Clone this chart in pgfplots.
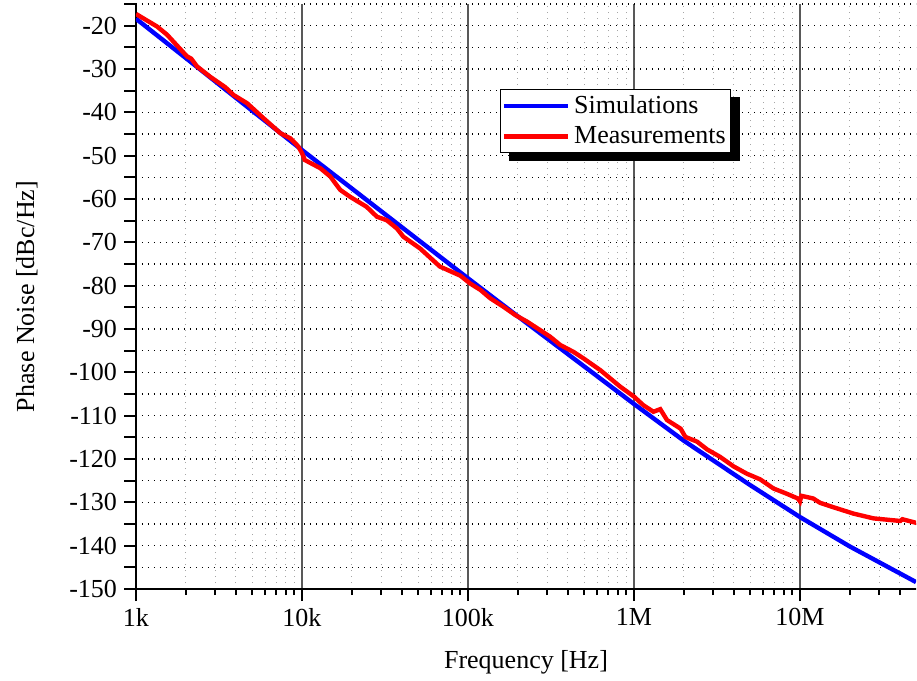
\documentclass[border=0pt]{standalone}
\usepackage{fontspec}
\setmainfont{Liberation Serif}
\usepackage{pgfplots}
\usepackage{pgfplotstable}
\pgfplotsset{compat=1.18}

% simulated phase noise
\pgfplotstableread{
f v
1000 -18.4
2000 -27.5
5000 -39.6
10000 -48.7
20000 -57.6
50000 -69.4
100000 -78.3
200000 -87.1
500000 -98.6
1000000 -107.3
2000000 -115.8
5000000 -126.0
10000000 -133.4
20000000 -140.2
50000000 -148.4
}\simdata

% measured phase noise
\pgfplotstableread{
f v
1000 -17.3
1340 -20.2
1540 -22.1
2030 -27.1
2150 -27.6
2330 -29.4
2800 -31.8
3450 -34.2
3870 -36.0
4670 -37.9
5880 -41.4
7400 -44.8
8500 -46.0
9100 -47.1
9500 -47.9
10000 -49.4
10400 -51.0
12900 -52.9
14800 -54.8
17000 -57.9
19500 -59.5
24500 -61.8
28300 -64.1
32400 -64.9
37300 -66.8
40800 -68.7
51400 -71.4
67800 -75.6
90000 -77.7
103000 -79.5
119000 -81.0
136000 -82.9
164000 -84.9
193000 -86.8
227000 -88.3
273000 -90.3
313000 -91.8
360000 -93.7
433000 -95.3
497000 -96.8
627000 -99.5
826000 -103.3
1000000 -105.6
1140000 -107.6
1310000 -109.1
1440000 -108.5
1580000 -111.0
1910000 -113.0
2040000 -114.9
2400000 -116.0
2760000 -117.8
3300000 -119.5
3980000 -121.7
4790000 -123.4
5760000 -124.7
6920000 -126.8
8300000 -128.0
9700000 -129.1
10000000 -129.8
10200000 -128.5
12000000 -129.1
13200000 -130.1
15800000 -131.1
21000000 -132.6
27700000 -133.7
40200000 -134.3
41400000 -133.9
50900000 -134.8
}\measdata

\begin{document}
\begin{tikzpicture}
\begin{axis}[
  set layers,
  scale only axis,
  width=390pt, height=292.5pt,
  xmode=log,
  xmin=1000, xmax=5e7,
  ymin=-150, ymax=-15,
  axis x line*=bottom, axis y line*=left,
  axis line style={line width=1pt, -},
  font=\fontsize{13}{15.6}\selectfont,
  /pgf/number format/assume math mode=true,
  xtick={1e3,1e4,1e5,1e6,1e7},
  xticklabels={1k,10k,100k,1M,10M},
  minor xtick={2e3,3e3,4e3,5e3,6e3,7e3,8e3,9e3,
               2e4,3e4,4e4,5e4,6e4,7e4,8e4,9e4,
               2e5,3e5,4e5,5e5,6e5,7e5,8e5,9e5,
               2e6,3e6,4e6,5e6,6e6,7e6,8e6,9e6,
               2e7,3e7,4e7},
  ytick={-150,-140,...,-20},
  extra y ticks={-145,-135,...,-15},
  extra y tick labels={},
  extra y tick style={grid=major, major grid style={gray!70, line width=0.5pt, dash pattern=on 0.6pt off 2.4pt}},
  tick align=outside,
  major tick length=6pt, minor tick length=3pt,
  tick style={black, line width=1pt},
  grid=both,
  major x grid style={black!65, line width=0.6pt},
  minor x grid style={gray!70, line width=0.5pt, dash pattern=on 0.6pt off 2.4pt},
  major y grid style={black, line width=0.6pt, dash pattern=on 0.7pt off 2.3pt},
  xlabel={Frequency [Hz]},
  ylabel={Phase Noise [dBc/Hz]},
  every axis x label/.style={at={(axis description cs:0.5,-0.125)}, anchor=center},
  every axis y label/.style={at={(axis description cs:-0.14,0.5)}, rotate=90, anchor=center},
  legend style={at={(0.467,0.855)}, anchor=north west, draw=black, line width=0.5pt,
    fill=white, inner xsep=0.5pt, inner ysep=1pt, row sep=1pt, name=leg,
    font=\fontsize{13}{15.6}\selectfont},
  legend cell align=left,
  legend image code/.code={\draw[#1] (0pt,0pt) -- (32pt,0pt);},
]
\addplot[blue, line width=2.2pt] table[x=f, y=v] {\simdata};
\addlegendentry{Simulations}
\addplot[red, line width=2.2pt] table[x=f, y=v] {\measdata};
\addlegendentry{Measurements}
\end{axis}
% legend shadow, on the main layer below the legend box
\fill[black] ([xshift=4.3pt,yshift=-4.3pt]leg.south west) rectangle ([xshift=4.3pt,yshift=-4.3pt]leg.north east);
\pgfresetboundingbox
\path (-68pt,-46pt) rectangle (390.5pt,294.5pt);
\end{tikzpicture}
\end{document}
